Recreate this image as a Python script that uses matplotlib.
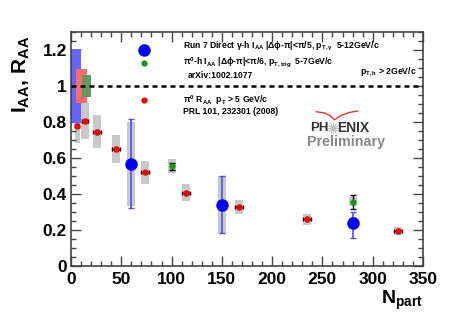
#!/usr/bin/env python
# -*- coding:utf-8 -*-

import matplotlib
matplotlib.use("Agg")
import matplotlib.pyplot as plt
from matplotlib.patches import Rectangle
from matplotlib.ticker import MultipleLocator, FormatStrFormatter

# pi0 R_AA, pT > 5 GeV/c (PRL 101, 232301)
red_x = [6, 14, 26, 45, 74, 114, 167, 235, 325]
red_y = [0.78, 0.806, 0.745, 0.65, 0.52, 0.407, 0.328, 0.26, 0.194]
red_xerr = [2, 3, 4, 4, 4, 4, 4, 4, 4]
red_sys = [0.094, 0.098, 0.092, 0.077, 0.063, 0.048, 0.039, 0.03, 0.022]

# direct gamma-h I_AA
blue_x = [60, 150, 280]
blue_y = [0.567, 0.34, 0.24]
blue_err_lo = [0.245, 0.155, 0.085]
blue_err_hi = [0.248, 0.16, 0.06]
blue_sys = [0.234, 0.16, 0.035]

# pi0-h I_AA
green_x = [100, 280]
green_y = [0.555, 0.357]
green_err = [0.02, 0.04]
green_sys = [0.04, 0.025]

# normalisation boxes at I_AA = R_AA = 1: (x0, x1, half height)
norm_blue = (0, 10, 0.205)
norm_red = (5, 16, 0.097)
norm_green = (10.5, 20, 0.06)

plt.rcParams["font.family"] = ["Liberation Sans", "DejaVu Sans"]
plt.rcParams["font.weight"] = "bold"
plt.rcParams["mathtext.fontset"] = "custom"
plt.rcParams["mathtext.rm"] = "Liberation Sans:bold"
plt.rcParams["mathtext.it"] = "Liberation Sans:bold"
plt.rcParams["mathtext.bf"] = "Liberation Sans:bold"

fig = plt.figure(figsize=(4.71, 3.13), dpi=100)
ax = fig.add_axes([71/471, 1-266/313, 352/471, 234/313])

grey = "#c8c8c8"
bw = 8
for x, y, s in zip(red_x, red_y, red_sys):
    w = 5 if x < 10 else bw
    ax.add_patch(Rectangle((x-w/2, y-s), w, 2*s, color=grey, lw=0, zorder=1))
for x, y, s in zip(blue_x, blue_y, blue_sys):
    ax.add_patch(Rectangle((x-bw/2, y-s), bw, 2*s, color=grey, lw=0, zorder=1))
for x, y, s in zip(green_x, green_y, green_sys):
    ax.add_patch(Rectangle((x-bw/2, y-s), bw, 2*s, color=grey, lw=0, zorder=1))

for (x0, x1, h), c in [(norm_blue, "#6464ff"), (norm_red, "#ff6b6b"), (norm_green, "#5e9a5e")]:
    ax.add_patch(Rectangle((x0, 1-h), x1-x0, 2*h, color=c, lw=0, zorder=2))

ax.axhline(1.0, color="black", lw=1.8, ls=(0, (2, 1.6)), zorder=3)

ax.errorbar(red_x, red_y, xerr=red_xerr, yerr=0.01, fmt="none", ecolor="black",
            elinewidth=1, capsize=1.5, zorder=4)
ax.errorbar(blue_x, blue_y, yerr=[blue_err_lo, blue_err_hi], fmt="none", ecolor="#4d4dff",
            elinewidth=1.2, capsize=2, zorder=4)
ax.errorbar(green_x, green_y, yerr=green_err, fmt="none", ecolor="black",
            elinewidth=1, capsize=2, zorder=4)

ax.plot(red_x, red_y, "o", color="#ff0000", ms=4.5, mew=0, zorder=5)
ax.plot(green_x, green_y, "o", color="#119911", ms=4.5, mew=0, zorder=5)
ax.plot(blue_x, blue_y, "o", color="#0000ff", ms=9, mew=0, zorder=5)

# legend-like markers and texts
ax.plot([72.9], [1.2], "o", color="#0000ff", ms=9, mew=0, zorder=5)
ax.plot([72.3], [1.126], "o", color="#119911", ms=4.5, mew=0, zorder=5)
ax.plot([72.3], [0.922], "o", color="#ff0000", ms=4.5, mew=0, zorder=5)

fs = 6.2
ax.text(111.3, 1.217, "Run 7 Direct γ-h I$_{AA}$ |Δϕ-π|<π/5, p$_{T,γ}$  5-12GeV/c",
        fontsize=fs, ha="left", va="center")
ax.text(111.3, 1.133, "π$^{0}$-h I$_{AA}$ |Δϕ-π|<π/6, p$_{T,trig}$  5-7GeV/c",
        fontsize=fs, ha="left", va="center")
ax.text(116.3, 1.061, "arXiv:1002.1077", fontsize=fs, ha="left", va="center")
ax.text(344, 1.078, "p$_{T,h}$ > 2GeV/c", fontsize=fs, ha="right", va="center")
ax.text(111.3, 0.922, "π$^{0}$ R$_{AA}$  p$_{T}$ > 5 GeV/c", fontsize=fs, ha="left", va="center")
ax.text(111.3, 0.856, "PRL 101, 232301 (2008)", fontsize=fs, ha="left", va="center")

# PHENIX Preliminary logo
ax.text(256, 0.767, "PH", fontsize=9.5, color="#333333", ha="right", va="center")
ax.plot([260.5], [0.767], marker=(12, 2, 0), color="#c0c0c0", ms=8, mew=0.6)
ax.text(265, 0.767, "ENIX", fontsize=10, color="#333333", ha="left", va="center")
ax.text(273.8, 0.689, "Preliminary", fontsize=10.3, color="#888888", ha="center", va="center")
ax.plot([244, 252, 257, 262, 268, 276, 285], [0.857, 0.85, 0.838, 0.812, 0.835, 0.852, 0.861],
        color="#ee3333", lw=1)

ax.set_xlim(0, 350)
ax.set_ylim(0, 1.3)
ax.xaxis.set_major_locator(MultipleLocator(50))
ax.xaxis.set_minor_locator(MultipleLocator(10))
ax.yaxis.set_major_locator(MultipleLocator(0.2))
ax.yaxis.set_minor_locator(MultipleLocator(0.05))
ax.yaxis.set_major_formatter(FormatStrFormatter("%g"))
ax.tick_params(which="both", direction="in", top=True, right=True, colors="#444444",
               labelcolor="black", labelsize=12.5)
ax.tick_params(which="major", length=7, width=1)
ax.tick_params(which="minor", length=3.5, width=1)
ax.tick_params(axis="x", pad=4)
ax.tick_params(axis="y", pad=3)
for sp in ax.spines.values():
    sp.set_color("#444444")
    sp.set_linewidth(1.2)

fig.text(0.045, 1-74.5/313, "I$_{AA}$, R$_{AA}$", fontsize=15, rotation=90,
         ha="center", va="center")
fig.text(423/471, 1-304/313, "N$_{part}$", fontsize=14, ha="right", va="baseline")

fig.savefig("out.png", dpi=100)
